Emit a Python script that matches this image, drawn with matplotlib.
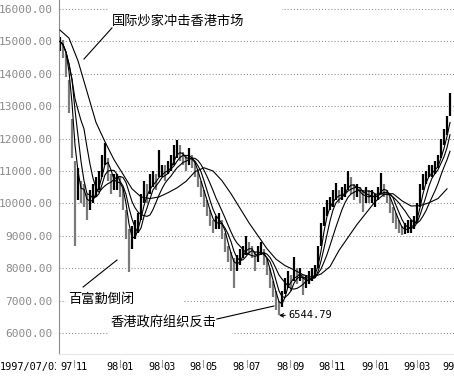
import numpy as np
import pandas as pd
import matplotlib
matplotlib.use('Agg')
import matplotlib.pyplot as plt
from matplotlib import transforms
from matplotlib.patches import Rectangle

plt.rcParams['font.family'] = ['Noto Sans CJK SC', 'DejaVu Sans']

# Hang Seng index 1997/10 - 1999/04, one bar ~ 3 trading days
close = [15000, 14800, 14200, 13200, 11900, 10300, 10800, 10300, 10200, 9900,
         10100, 10300, 10500, 10700, 11300, 11600, 10900, 10600, 10700, 10700,
         10500, 10200, 9300, 8600, 9000, 9200, 9400, 10000, 10400, 10300,
         10600, 10800, 10600, 11000, 11000, 10900, 11100, 11300, 11500, 11700,
         11500, 11400, 11300, 11500, 11300, 11000, 10700, 10400, 10100, 9800,
         9500, 9300, 9400, 9500, 9200, 8800, 8400, 8200, 8000, 8200,
         8400, 8500, 8700, 8600, 8500, 8200, 8500, 8600, 8300, 8000,
         7600, 7300, 6900, 6700, 7100, 7500, 7700, 7500, 7900, 7800,
         7800, 7500, 7600, 7700, 7800, 7900, 8500, 9200, 9700, 9900,
         10000, 10200, 10300, 10200, 10300, 10400, 10700, 10600, 10400, 10400,
         10300, 10100, 10300, 10200, 10200, 10200, 10300, 10600, 10400, 10200,
         10000, 9700, 9400, 9300, 9100, 9200, 9300, 9300, 9400, 9800,
         10400, 10700, 10800, 11000, 11000, 11100, 11300, 11800, 12000, 12400,
         13100]
high = [15150, 15050, 14600, 13800, 12600, 11300, 11100, 10700, 10600, 10300,
        10400, 10600, 10800, 11000, 11500, 11860, 11400, 10900, 10900, 10900,
        10800, 10500, 9800, 9200, 9300, 9500, 9700, 10300, 10700, 10600,
        10900, 11000, 10900, 11650, 11200, 11200, 11300, 11500, 11800, 11950,
        11800, 11600, 11500, 11700, 11500, 11300, 11000, 10700, 10400, 10100,
        9800, 9500, 9600, 9700, 9500, 9100, 8700, 8500, 8300, 8400,
        8600, 8700, 9000, 8800, 8700, 8500, 8700, 8800, 8600, 8300,
        8000, 7600, 7300, 7000, 7300, 7700, 7900, 7800, 8350, 8000,
        8000, 7800, 7800, 7900, 8000, 8100, 8700, 9400, 9900, 10100,
        10200, 10400, 10630, 10400, 10500, 10600, 11000, 10800, 10600, 10600,
        10500, 10400, 10500, 10400, 10400, 10300, 10500, 10940, 10600, 10400,
        10200, 9900, 9700, 9500, 9300, 9400, 9500, 9500, 9600, 10000,
        10600, 10900, 11000, 11200, 11200, 11300, 11500, 12000, 12300, 12700,
        13400]
low = [14700, 14500, 13900, 12800, 11400, 8700, 10100, 10000, 9900, 9500,
       9800, 10000, 10200, 10400, 10800, 11200, 10700, 10300, 10400, 10400,
       10200, 9800, 8900, 7880, 8600, 8900, 9100, 9500, 10000, 10000,
       10300, 10500, 10400, 10800, 10800, 10700, 10900, 11000, 11200, 11400,
       11300, 11200, 11000, 11200, 11100, 10800, 10500, 10200, 9900, 9600,
       9300, 9100, 9200, 9200, 8900, 8500, 8200, 7900, 7400, 7900,
       8100, 8300, 8400, 8400, 8300, 7900, 8200, 8400, 8100, 7800,
       7400, 7100, 6700, 6545, 6800, 7200, 7400, 7300, 7600, 7500,
       7600, 7170, 7400, 7500, 7600, 7700, 8000, 8700, 9300, 9600,
       9800, 9900, 10100, 10000, 10100, 10200, 10400, 10300, 10100, 10200,
       10000, 9730, 10000, 10000, 10000, 9900, 10100, 10300, 10200, 10000,
       9700, 9400, 9200, 9100, 9030, 9050, 9100, 9100, 9200, 9400,
       9900, 10400, 10600, 10800, 10800, 10900, 11100, 11400, 11800, 12100,
       12700]
# long moving average
ma_long = [15350, 15100, 14400, 13450, 12500, 11900, 11350, 10900, 10450, 10200,
           10150, 10200, 10330, 10480, 10680, 10980, 11100, 11000, 10700, 10300,
           9850, 9400, 9000, 8600, 8280, 8080, 7950, 7800, 7720, 7820,
           8050, 8550, 8950, 9350, 9700, 10050, 10280, 10300, 10080, 9920,
           9930, 10020, 10150, 10450]

y_ticks = [6000, 7000, 8000, 9000, 10000, 11000, 12000, 13000, 14000, 15000, 16000]
tick_pos = [4.7, 20, 34, 47.7, 62.3, 76.7, 90.7, 105.3, 119, 132.3]
tick_year = ['97', '98', '98', '98', '98', '98', '98', '99', '99', '99']
tick_month = ['11', '01', '03', '05', '07', '09', '11', '01', '03', '']

df = pd.DataFrame({'close': close, 'high': high, 'low': low})
df['ma_a'] = df.close.rolling(3, min_periods=1).mean()
df['ma_b'] = df.close.rolling(5, min_periods=1).mean()
df['ma_c'] = df.close.rolling(9, min_periods=1).mean()
up = df.close.diff().fillna(0) >= 0
bar_colors = np.where(up, 'black', '#7a7a7a')

fig = plt.figure(figsize=(4.54, 3.76), dpi=100)
ax = fig.add_axes([59 / 454, 22 / 376, 395 / 454, 354 / 376])
ax.set_xlim(-1 / 3, 131.33)
ax.set_ylim(5352, 16278)

# bars and moving averages
ax.vlines(df.index, df.low, df.high, colors=bar_colors, linewidth=1.6, zorder=2)
for col in ['ma_a', 'ma_b', 'ma_c']:
    ax.plot(df.index, df[col], color='black', lw=0.8, zorder=3)
ax.plot(np.arange(0, len(df), 3), ma_long, color='black', lw=0.8, zorder=3)

# axes styling
ax.set_yticks(y_ticks)
ax.set_yticklabels(['%.2f' % v for v in y_ticks])
ax.set_xticks([])
ax.tick_params(axis='y', length=0, pad=4.5, labelcolor='#8a8a8a')
for lab in ax.get_yticklabels():
    lab.set_fontfamily('DejaVu Sans Mono')
    lab.set_fontsize(8)
ax.yaxis.grid(True, color='#8c8c8c', linestyle=(0, (1, 2)), lw=0.75)
ax.set_axisbelow(True)
for s in ['top', 'right']:
    ax.spines[s].set_visible(False)
ax.spines['left'].set_color('#8c8c8c')
ax.spines['left'].set_linewidth(0.8)
ax.spines['bottom'].set_color('#e6e6e6')
ax.spines['bottom'].set_linewidth(0.8)

# white boxes behind the notes (hide the grid there)
for x0, x1, y0, y1 in [(16.3, 74, 15352, 16185), (2, 41, 6833, 7235), (16.3, 57.3, 5907, 6556)]:
    ax.add_patch(Rectangle((x0, y0), x1 - x0, y1 - y0, facecolor='white',
                           edgecolor='none', zorder=1))

# notes
cjk = dict(fontsize=9.5, color='black', ha='left', va='center', zorder=4)
ax.text(17.3, 15630, '国际炒家冲击香港市场', **cjk)
ax.text(2.7, 7049, '百富勤倒闭', **cjk)
ax.text(17, 6309, '香港政府组织反击', **cjk)
lead = dict(color='black', lw=0.8, zorder=4)
ax.plot([8, 17.3], [14457, 15414], **lead)
ax.plot([7.7, 19], [7420, 8253], **lead)
ax.plot([52.3, 71.3], [6432, 6833], **lead)
ax.annotate('6544.79', xy=(73, 6545), xytext=(76, 6545), ha='left', va='center',
            fontsize=7.5, fontfamily='DejaVu Sans Mono', zorder=4,
            arrowprops=dict(arrowstyle='->', color='black', lw=0.8,
                            shrinkA=0, shrinkB=0, mutation_scale=6))

# date labels under the axis
blend = transforms.blended_transform_factory(ax.transData, fig.transFigure)
mono = dict(fontsize=7.4, fontfamily='DejaVu Sans Mono', va='center', color='black')
for p, yr, mo in zip(tick_pos, tick_year, tick_month):
    ax.text(p - 0.6, 0.024, yr, ha='right', transform=blend, clip_on=False, **mono)
    if mo:
        ax.text(p + 0.6, 0.024, mo, ha='left', transform=blend, clip_on=False, **mono)
        ax.plot([p, p], [0.025, 0.043], transform=blend, clip_on=False,
                color='#9a9a9a', lw=0.8)
t = fig.text(0.0, 0.024, '1997/07/03', ha='left', **mono)
t.set_clip_path(Rectangle((0, 0), 55.5 / 454, 1, transform=fig.transFigure))

fig.savefig('out.png', dpi=100)
